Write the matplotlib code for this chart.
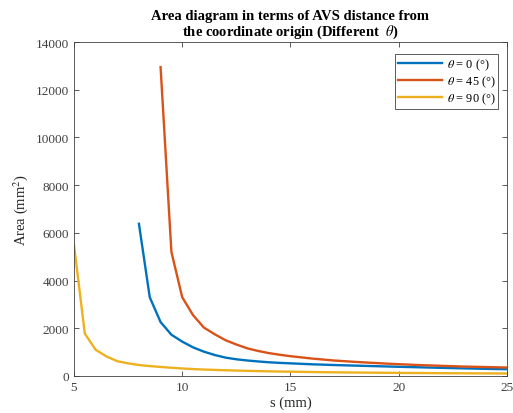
import numpy as np
import matplotlib
matplotlib.use("Agg")
import matplotlib.pyplot as plt

plt.rcParams["font.family"] = ["Liberation Serif", "DejaVu Serif"]
plt.rcParams["mathtext.fontset"] = "stix"

# s (mm) values for each curve, step 0.5
s_0 = np.arange(8, 25.01, 0.5)
s_45 = np.arange(9, 25.01, 0.5)
s_90 = np.arange(5, 25.01, 0.5)

# area (mm^2)
area_0 = [6380, 3300, 2260, 1730, 1440, 1200, 1020, 880, 770, 700,
          650, 610, 575, 550, 530, 510, 490, 475, 460, 447,
          435, 422, 410, 398, 386, 375, 363, 352, 341, 330,
          320, 310, 300, 292, 285]
area_45 = [12950, 5200, 3300, 2550, 2030, 1750, 1500, 1320, 1160, 1050,
           960, 890, 830, 780, 730, 690, 650, 620, 590, 565,
           540, 515, 495, 475, 455, 440, 425, 410, 395, 385,
           375, 365, 355]
area_90 = [5500, 1780, 1100, 820, 620, 530, 460, 415, 380, 345,
           315, 290, 270, 255, 240, 228, 215, 205, 195, 187,
           180, 173, 166, 160, 155, 150, 145, 141, 137, 133,
           129, 126, 123, 120, 117, 115, 112, 110, 108, 106, 104]

labels = [r"$\theta$ = 0 (°)", r"$\theta$ = 45 (°)", r"$\theta$ = 90 (°)"]
colors = ["#0072BD", "#D95319", "#EDB120"]

fig = plt.figure(figsize=(5.13, 4.14), dpi=100)
ax = fig.add_axes([0.1442, 0.0894, 0.8441, 0.8067])

ax.plot(s_0, area_0, color=colors[0], lw=1.7, label=labels[0])
ax.plot(s_45, area_45, color=colors[1], lw=1.7, label=labels[1])
ax.plot(s_90, area_90, color=colors[2], lw=1.7, label=labels[2])

ax.set_xlim(5, 25)
ax.set_ylim(0, 14000)
ax.set_xticks([5, 10, 15, 20, 25])
ax.set_yticks(np.arange(0, 14001, 2000))
ax.tick_params(direction="in", top=True, right=True, labelsize=9.5,
               colors="#404040", length=3.5, width=0.6)
for sp in ax.spines.values():
    sp.set_color("#404040")
    sp.set_linewidth(0.6)

ax.set_xlabel("s (mm)", fontsize=10.5, color="#262626", labelpad=2)
ax.set_ylabel("Area (mm$^2$)", fontsize=10.5, color="#262626", labelpad=4)
ax.set_title("Area diagram in terms of AVS distance from\n"
             r"the coordinate origin (Different  $\theta$)",
             fontsize=10.5, fontweight="bold", pad=5, linespacing=1.05)

leg = ax.legend(loc="upper right", bbox_to_anchor=(0.98, 0.965),
                fontsize=8.8, fancybox=False, edgecolor="#404040",
                framealpha=1, handlelength=3.6, borderpad=0.25,
                labelspacing=0.12, handletextpad=0.4, borderaxespad=0)
leg.get_frame().set_linewidth(0.6)

fig.savefig("out.png", dpi=100)
